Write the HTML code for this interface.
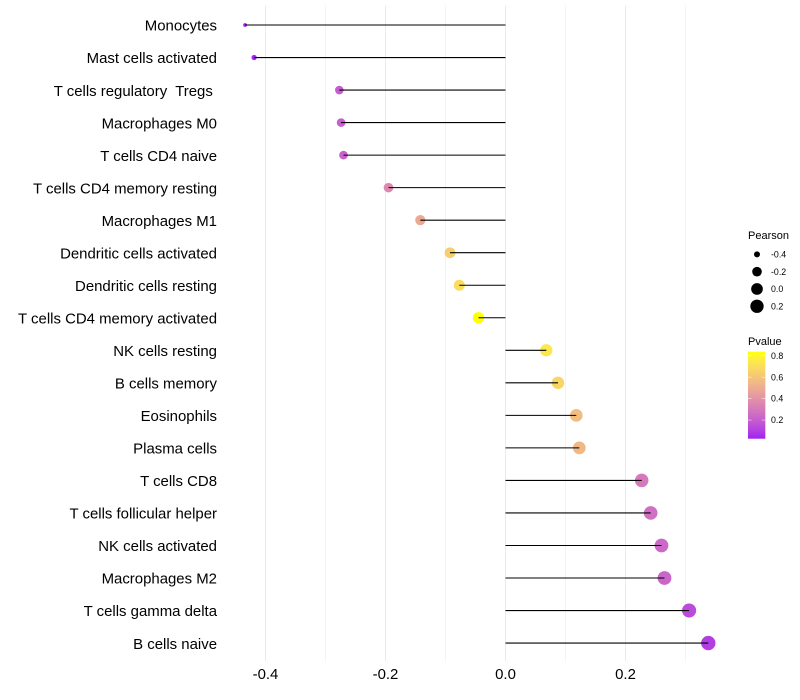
<!DOCTYPE html>
<html>
<head>
<meta charset="utf-8">
<title>Lollipop chart</title>
<style>
html,body{margin:0;padding:0;background:#fff;}
svg{display:block;}
text{font-family:"Liberation Sans",Arial,sans-serif;white-space:pre;}
</style>
</head>
<body>
<svg id="chart" width="800" height="700" viewBox="0 0 800 700" xmlns="http://www.w3.org/2000/svg">
  <rect x="0" y="0" width="800" height="700" fill="#ffffff"/>
  <g id="grid"></g>
  <g id="points"></g>
  <g id="stems"></g>
  <g id="ylabels"></g>
  <g id="xlabels"></g>
  <g id="size-legend">
    <text x="748" y="239" font-size="11" fill="#000">Pearson</text>
  </g>
  <g id="color-legend">
    <text x="748" y="345" font-size="11" fill="#000">Pvalue</text>
  </g>
</svg>
<script>
const categories = ["Monocytes","Mast cells activated","T cells regulatory  Tregs ","Macrophages M0","T cells CD4 naive","T cells CD4 memory resting","Macrophages M1","Dendritic cells activated","Dendritic cells resting","T cells CD4 memory activated","NK cells resting","B cells memory","Eosinophils","Plasma cells","T cells CD8","T cells follicular helper","NK cells activated","Macrophages M2","T cells gamma delta","B cells naive"];
const pearson = [-0.434,-0.419,-0.277,-0.274,-0.27,-0.195,-0.142,-0.0925,-0.077,-0.045,0.068,0.0875,0.118,0.123,0.227,0.242,0.26,0.265,0.306,0.338];
const pvalue = [0.03,0.04,0.2,0.21,0.22,0.36,0.49,0.64,0.7,0.84,0.74,0.67,0.57,0.55,0.3,0.27,0.24,0.23,0.14,0.1];
const xMajorTicks = [-0.4,-0.2,0,0.2];
const xMinorTicks = [-0.3,-0.1,0.1,0.3];
const sizeLegendValues = [-0.4,-0.2,0,0.2];
const colorLegendValues = [0.2,0.4,0.6,0.8];

const NS = "http://www.w3.org/2000/svg";
function mk(tag, attrs, parent) {
  const el = document.createElementNS(NS, tag);
  for (const k in attrs) el.setAttribute(k, attrs[k]);
  parent.appendChild(el);
  return el;
}
function xScale(v) { return 505.5 + v * 600; }
function yScale(i) { return 25 + i * 32.53; }
const pLow = 0.03, pHigh = 0.8375;
function colorBarY(p) { return 438.3 - (p - pLow) / (pHigh - pLow) * 86.6; }

const rMin = Math.min.apply(null, pearson), rMax = Math.max.apply(null, pearson);
function pointRadius(r) {
  const t = Math.max(0, (r - rMin) / (rMax - rMin));
  const size = 1 + 5 * Math.sqrt(t);
  return (size * 2.1 + 1.7) / 2;
}

function srgb2lin(c) { c /= 255; return c <= 0.04045 ? c / 12.92 : Math.pow((c + 0.055) / 1.055, 2.4); }
function lin2srgb(c) { c = Math.max(0, Math.min(1, c)); return Math.round(255 * (c <= 0.0031308 ? 12.92 * c : 1.055 * Math.pow(c, 1 / 2.4) - 0.055)); }
function rgb2lab(c) {
  const R = srgb2lin(c[0]), G = srgb2lin(c[1]), B = srgb2lin(c[2]);
  const X = (0.4124 * R + 0.3576 * G + 0.1805 * B) / 0.95047;
  const Y = 0.2126 * R + 0.7152 * G + 0.0722 * B;
  const Z = (0.0193 * R + 0.1192 * G + 0.9505 * B) / 1.08883;
  const f = v => v > 0.008856 ? Math.cbrt(v) : 7.787 * v + 16 / 116;
  return [116 * f(Y) - 16, 500 * (f(X) - f(Y)), 200 * (f(Y) - f(Z))];
}
function lab2rgb(l) {
  const fy = (l[0] + 16) / 116, fx = fy + l[1] / 500, fz = fy - l[2] / 200;
  const g = v => { const c = v * v * v; return c > 0.008856 ? c : (v - 16 / 116) / 7.787; };
  const X = g(fx) * 0.95047, Y = g(fy), Z = g(fz) * 1.08883;
  return "rgb(" + lin2srgb(3.2406 * X - 1.5372 * Y - 0.4986 * Z) + "," +
    lin2srgb(-0.9689 * X + 1.8758 * Y + 0.0415 * Z) + "," +
    lin2srgb(0.0557 * X - 0.204 * Y + 1.057 * Z) + ")";
}
const labLow = rgb2lab([160, 32, 240]), labHigh = rgb2lab([255, 255, 0]);
function colorAt(p) {
  const t = Math.max(0, Math.min(1, (p - pLow) / (pHigh - pLow)));
  return lab2rgb(labLow.map((v, i) => v + (labHigh[i] - v) * t));
}
function fmt(v) { return v.toFixed(1); }

const grid = document.getElementById("grid");
const points = document.getElementById("points");
const stems = document.getElementById("stems");
const ylabels = document.getElementById("ylabels");
const xlabels = document.getElementById("xlabels");
const sizeLegend = document.getElementById("size-legend");
const colorLegend = document.getElementById("color-legend");

xMinorTicks.forEach(function (v) {
  const l = mk("line", {x1: xScale(v), x2: xScale(v), y1: 5.5, y2: 661.5, stroke: "#ebebeb", "stroke-width": 0.6}, grid);
  
  
});
xMajorTicks.forEach(function (v) {
  const l = mk("line", {x1: xScale(v), x2: xScale(v), y1: 5.5, y2: 661.5, stroke: "#ebebeb", "stroke-width": 1}, grid);
  
  
  const t = mk("text", {x: xScale(v), y: 679, "text-anchor": "middle", "font-size": 14.95, fill: "#000"}, xlabels);
  t.textContent = fmt(v);
  
  
});

categories.forEach(function (name, i) {
  const y = yScale(i);
  const c = mk("circle", {cx: xScale(pearson[i]), cy: y, r: pointRadius(pearson[i]), fill: colorAt(pvalue[i])}, points);
  
  
  const s = mk("line", {x1: xScale(0), x2: xScale(pearson[i]), y1: y, y2: y, stroke: "#000", "stroke-width": 1.07}, stems);
  
  
  const t = mk("text", {x: 217, y: y + 5.7, "text-anchor": "end", "font-size": 14.95, fill: "#000"}, ylabels);
  t.textContent = name;
  
  
});

sizeLegendValues.forEach(function (v, i) {
  const y = 254.4 + i * 17.28;
  const c = mk("circle", {cx: 757, cy: y, r: pointRadius(v), fill: "#000"}, sizeLegend);
  
  
  const t = mk("text", {x: 771, y: y + 3.1, "font-size": 8.8, fill: "#000"}, sizeLegend);
  t.textContent = fmt(v);
  
  
});

const barSteps = 87;
for (let i = 0; i < barSteps; i++) {
  const p = pLow + (pHigh - pLow) * (i + 0.5) / barSteps;
  const r = mk("rect", {x: 748, y: 438.3 - (i + 1) * 86.6 / barSteps, width: 17.3, height: 86.6 / barSteps + 0.4, fill: colorAt(p)}, colorLegend);
  
  
}
colorLegendValues.forEach(function (v) {
  const y = colorBarY(v);
  const a = mk("line", {x1: 748, x2: 751.5, y1: y, y2: y, stroke: "#fff", "stroke-width": 0.5}, colorLegend);
  
  
  const b = mk("line", {x1: 761.8, x2: 765.3, y1: y, y2: y, stroke: "#fff", "stroke-width": 0.5}, colorLegend);
  
  
  const t = mk("text", {x: 771, y: y + 3.1, "font-size": 8.8, fill: "#000"}, colorLegend);
  t.textContent = fmt(v);
  
  
});
</script>
</body>
</html>
